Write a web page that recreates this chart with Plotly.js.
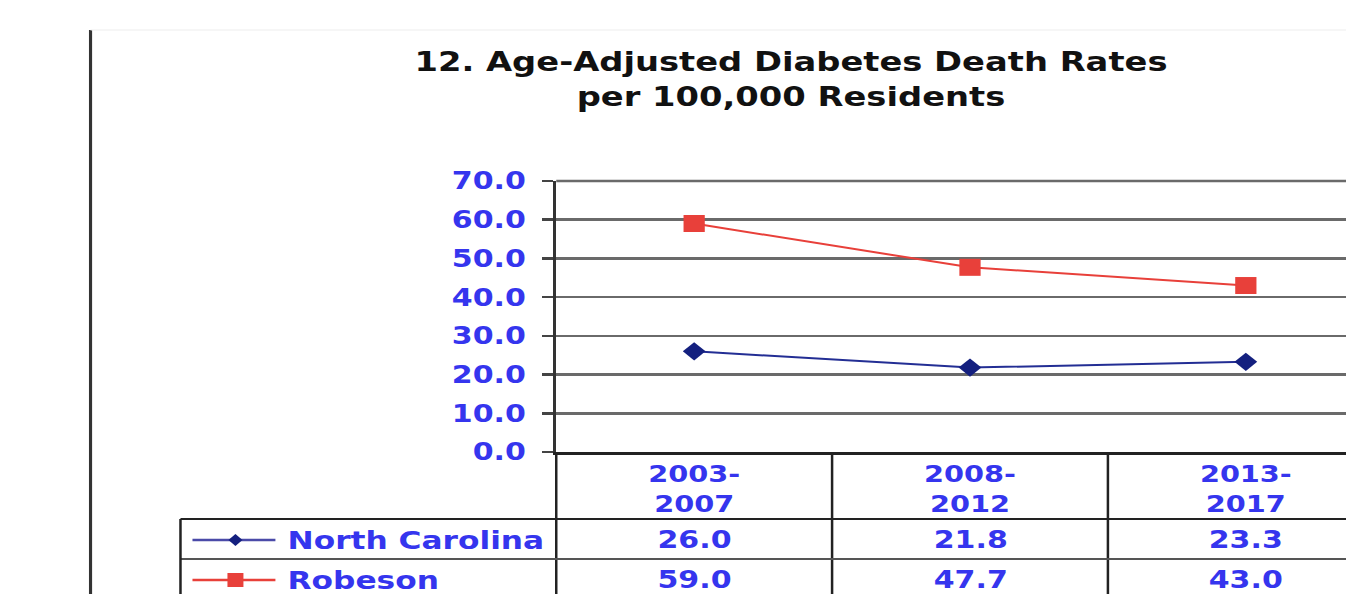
<!DOCTYPE html>
<html>
<head>
<meta charset="utf-8">
<script src="https://cdn.plot.ly/plotly-3.0.1.min.js"></script>
<style>
html,body{margin:0;padding:0;overflow:hidden;background:#fff;width:1346px;height:594px;}
#chart{transform:scaleX(1.25);transform-origin:0 0;}
</style>
</head>
<body>
<div id="chart"></div>
<script>
// ---- data ----
const categories = ['2003-2007', '2008-2012', '2013-2017'];
const tickLabels = ['2003-<br>2007', '2008-<br>2012', '2013-<br>2017'];
const seriesNames = ['North Carolina', 'Robeson'];
const northCarolina = [26.0, 21.8, 23.3];
const robeson = [59.0, 47.7, 43.0];
const yTicks = [0, 10, 20, 30, 40, 50, 60, 70];

// ---- geometry (reference pixels; x is stretched by S via CSS) ----
const S = 1.25;
const W = 1384 / S, H = 594;
const L = 556 / S, T = 181, B = 452;
const PW = W - L, PH = B - T;
const px = x => (x / S - L) / PW;
const py = y => (B - y) / PH;

const BLUE = '#3535ee';
const FONT = 'DejaVu Sans, Verdana, sans-serif';
const NAVY = '#14207f';
const RED = '#e8403a';

const traces = [
  {x: categories, y: northCarolina, name: seriesNames[0], type: 'scatter', mode: 'lines+markers',
   line: {color: '#232e94', width: 2}, marker: {symbol: 'diamond', size: 14, color: NAVY}},
  {x: categories, y: robeson, name: seriesNames[1], type: 'scatter', mode: 'lines+markers',
   line: {color: RED, width: 2}, marker: {symbol: 'square', size: 17, color: RED}}
];

const shapes = [];
const line = (x0, y0, x1, y1, color, width, layer) => shapes.push({type: 'line', xref: 'paper', yref: 'paper',
  x0: px(x0), y0: py(y0), x1: px(x1), y1: py(y1), line: {color: color, width: width}, layer: layer || 'above'});
// frame
line(90, 30, 90, 594, '#333', 2.5);
line(90, 30, 1384, 30, '#eeeeee', 1);
// top gridline (70.0)
line(556, 181, 1384, 181, '#6a6a6a', 2.5, 'below');
// table grid
line(556, 452, 556, 594, '#222', 2);
line(832, 452, 832, 594, '#222', 2);
line(1108, 452, 1108, 594, '#222', 2);
line(180, 519, 1384, 519, '#222', 2);
line(180, 559, 1384, 559, '#555', 2);
line(180, 519, 180, 594, '#222', 2);
// legend keys
const rowY = [540, 580];
line(192, rowY[0], 275, rowY[0], '#4a4aa8', 2.5);
line(192, rowY[1], 275, rowY[1], RED, 2.5);
const kx = 235;
const dx = 7 / S / PW, dy = 6 / PH;
shapes.push({type: 'path', xref: 'paper', yref: 'paper', fillcolor: NAVY, line: {width: 0},
  path: `M ${px(kx) - dx},${py(rowY[0])} L ${px(kx)},${py(rowY[0]) + dy} L ${px(kx) + dx},${py(rowY[0])} L ${px(kx)},${py(rowY[0]) - dy} Z`});
const sx = 8 / S / PW, sy = 7 / PH;
shapes.push({type: 'rect', xref: 'paper', yref: 'paper', fillcolor: RED, line: {width: 0},
  x0: px(kx) - sx, x1: px(kx) + sx, y0: py(rowY[1]) - sy, y1: py(rowY[1]) + sy});

const annotations = [];
const allSeries = [northCarolina, robeson];
seriesNames.forEach((n, i) => {
  annotations.push({xref: 'paper', yref: 'paper', x: px(285), y: py(rowY[i]), xanchor: 'left', yanchor: 'middle',
    text: n, showarrow: false, font: {family: FONT, size: 25, color: BLUE, weight: 'bold'}});
  allSeries[i].forEach((v, j) => annotations.push({xref: 'x', yref: 'paper', x: categories[j], y: py(rowY[i]),
    xanchor: 'center', yanchor: 'middle', text: v.toFixed(1), showarrow: false,
    font: {family: FONT, size: 24, color: BLUE, weight: 'bold'}}));
});

const layout = {
  width: W, height: H,
  margin: {l: L, r: 0, t: T, b: H - B, pad: 0},
  paper_bgcolor: '#fff', plot_bgcolor: '#fff',
  showlegend: false,
  title: {text: '12. Age-Adjusted Diabetes Death Rates<br>per 100,000 Residents',
    xref: 'container', yref: 'container', x: (791 / S) / W, y: 1 - 71 / H, xanchor: 'center', yanchor: 'middle',
    font: {family: FONT, size: 27, color: '#111', weight: 'bold'}},
  xaxis: {type: 'category', range: [-0.5, 2.5], tickvals: categories, ticktext: tickLabels,
    showgrid: false, zeroline: false, showline: true, linecolor: '#222', linewidth: 2.5,
    ticks: '', tickfont: {family: FONT, size: 23, color: BLUE, weight: 'bold'}, fixedrange: true},
  yaxis: {range: [0, 70], tickvals: yTicks, ticktext: yTicks.map(v => v.toFixed(1)),
    showgrid: true, gridcolor: '#6a6a6a', gridwidth: 2.5, zeroline: false,
    showline: true, linecolor: '#333', linewidth: 2.5, ticks: 'outside', ticklen: 9, tickwidth: 2.5, tickcolor: '#444',
    tickfont: {family: FONT, size: 24, color: BLUE, weight: 'bold'}, ticklabelstandoff: 8, fixedrange: true},
  shapes: shapes,
  annotations: annotations
};

Plotly.newPlot('chart', traces, layout, {staticPlot: true, displayModeBar: false});
</script>
</body>
</html>
